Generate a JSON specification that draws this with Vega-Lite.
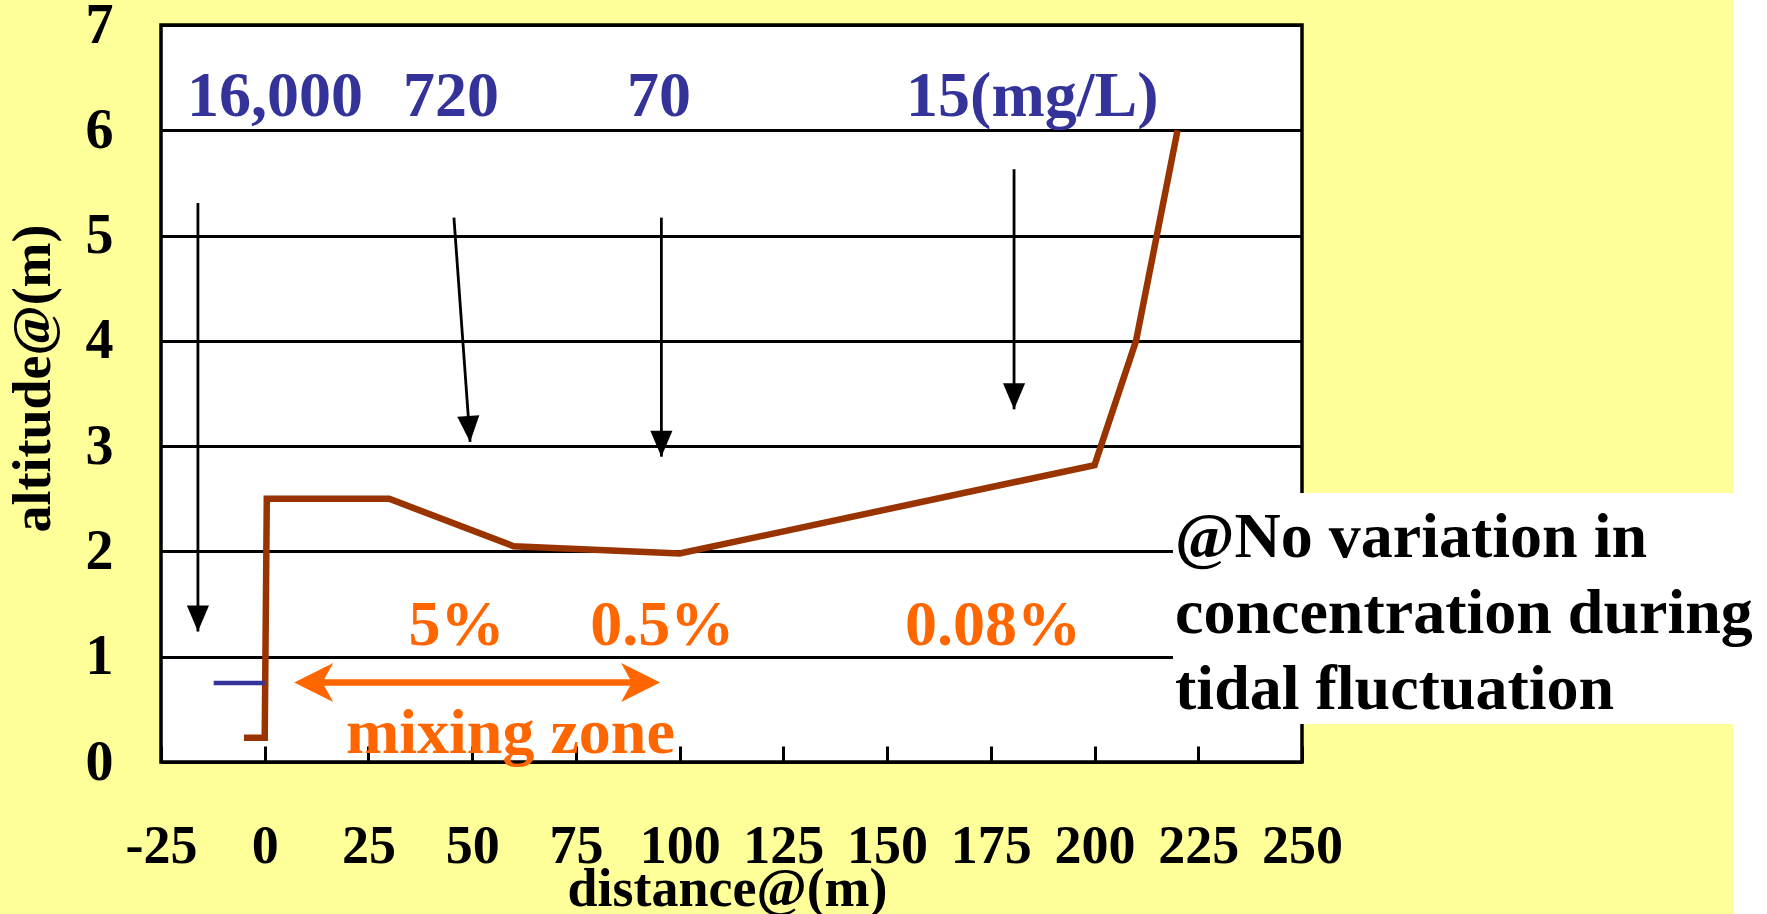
{
  "$schema": "https://vega.github.io/schema/vega-lite/v6.json",
  "width": 1141,
  "height": 737,
  "autosize": {"type": "none"},
  "padding": {"left": 161, "top": 25, "right": 465, "bottom": 152},
  "background": "#FFFF99",
  "config": {
    "view": {"fill": "white", "stroke": "black", "strokeWidth": 3.5},
    "font": "Liberation Serif"
  },
  "datasets": {
    "profile": [
      {"x": -5, "y": 0.23},
      {"x": 0, "y": 0.23},
      {"x": 0.5, "y": 2.5},
      {"x": 30, "y": 2.5},
      {"x": 60, "y": 2.05},
      {"x": 100, "y": 1.98},
      {"x": 200, "y": 2.82},
      {"x": 210, "y": 4.0},
      {"x": 220, "y": 6.0}
    ],
    "water": [
      {"x": -12.3, "y": 0.75},
      {"x": 0, "y": 0.75}
    ],
    "arrows": [
      {"x": -16.1, "y": 5.31, "x2": -16.1, "y2": 1.24, "angle": 0},
      {"x": 45.6, "y": 5.17, "x2": 49.5, "y2": 3.04, "angle": 356},
      {"x": 95.6, "y": 5.17, "x2": 95.6, "y2": 2.9, "angle": 0},
      {"x": 180.6, "y": 5.63, "x2": 180.6, "y2": 3.35, "angle": 0}
    ],
    "zone": [
      {"x": 7.1, "x2": 95.3, "s1": 13, "s2": 89, "y": 0.755}
    ],
    "box": [
      {"x": 218.9, "x2": 400, "y": 2.555, "y2": 0.361},
      {"x": 353.9, "x2": 400, "y": -2, "y2": 8}
    ],
    "labels": [
      {"x": 2.5, "y": 6.135, "text": "16,000", "group": "concentration"},
      {"x": 44.9, "y": 6.135, "text": "720", "group": "concentration"},
      {"x": 95, "y": 6.135, "text": "70", "group": "concentration"},
      {"x": 185, "y": 6.135, "text": "15(mg/L)", "group": "concentration"},
      {"x": 46.2, "y": 1.115, "text": "5%", "group": "fraction"},
      {"x": 95.8, "y": 1.115, "text": "0.5%", "group": "fraction"},
      {"x": 175.5, "y": 1.115, "text": "0.08%", "group": "fraction"},
      {"x": 59.2, "y": 0.086, "text": "mixing zone", "group": "fraction"}
    ],
    "note": [
      {"x": 219.4, "y": 1.95, "text": "@No variation in"},
      {"x": 219.4, "y": 1.228, "text": "concentration during"},
      {"x": 219.4, "y": 0.503, "text": "tidal fluctuation"}
    ]
  },
  "layer": [
    {
      "data": {"name": "profile"},
      "mark": {"type": "line", "color": "#993300", "strokeWidth": 6.5, "strokeJoin": "miter"},
      "encoding": {
        "x": {
          "field": "x", "type": "quantitative",
          "scale": {"domain": [-25, 250], "nice": false, "zero": false},
          "axis": {
            "values": [-25, 0, 25, 50, 75, 100, 125, 150, 175, 200, 225, 250],
            "labelExpr": "datum.value + ''",
            "title": "distance@(m)",
            "grid": false, "domain": false,
            "ticks": true, "tickSize": -16, "tickWidth": 3, "tickColor": "black",
            "labelPadding": 73, "labelFontSize": 54, "labelFont": "Liberation Serif",
            "labelFontWeight": "bold", "labelColor": "black",
            "labelFlush": false, "labelOverlap": false,
            "titleFont": "Liberation Serif", "titleFontSize": 54, "titleFontWeight": "bold",
            "titleColor": "black", "titleX": 566, "titleY": 143,
            "titleBaseline": "alphabetic", "titleAlign": "center"
          }
        },
        "y": {
          "field": "y", "type": "quantitative",
          "scale": {"domain": [0, 7], "nice": false, "zero": false},
          "axis": {
            "values": [0, 1, 2, 3, 4, 5, 6, 7],
            "labelExpr": "datum.value + ''",
            "title": "altitude@(m)",
            "grid": true, "gridColor": "black", "gridWidth": 3, "gridOpacity": 1,
            "domain": false, "ticks": false,
            "labelPadding": 48, "labelFontSize": 56, "labelFont": "Liberation Serif",
            "labelFontWeight": "bold", "labelColor": "black",
            "labelFlush": false, "labelOverlap": false,
            "titleFont": "Liberation Serif", "titleFontSize": 54, "titleFontWeight": "bold",
            "titleColor": "black", "titleX": -112, "titleY": 353,
            "titleBaseline": "alphabetic", "titleAlign": "center", "titleAngle": -90
          }
        }
      }
    },
    {
      "data": {"name": "box"},
      "mark": {"type": "rect", "color": "white", "strokeWidth": 0},
      "encoding": {
        "x": {"field": "x", "type": "quantitative"},
        "x2": {"field": "x2"},
        "y": {"field": "y", "type": "quantitative"},
        "y2": {"field": "y2"}
      }
    },
    {
      "data": {"name": "water"},
      "mark": {"type": "line", "color": "#333399", "strokeWidth": 4.5},
      "encoding": {
        "x": {"field": "x", "type": "quantitative"},
        "y": {"field": "y", "type": "quantitative"}
      }
    },
    {
      "data": {"name": "arrows"},
      "mark": {"type": "rule", "color": "black", "strokeWidth": 2.8},
      "encoding": {
        "x": {"field": "x", "type": "quantitative"},
        "y": {"field": "y", "type": "quantitative"},
        "x2": {"field": "x2"},
        "y2": {"field": "y2"}
      }
    },
    {
      "data": {"name": "arrows"},
      "mark": {"type": "point", "shape": "M0,0 L-0.85,-2 L0.85,-2 Z", "filled": true, "color": "black", "opacity": 1, "size": 676, "strokeWidth": 0},
      "encoding": {
        "x": {"field": "x2", "type": "quantitative"},
        "y": {"field": "y2", "type": "quantitative"},
        "angle": {"field": "angle", "type": "quantitative", "scale": null}
      }
    },
    {
      "data": {"name": "zone"},
      "mark": {"type": "rule", "color": "#FF6600", "strokeWidth": 6.5, "strokeCap": "butt"},
      "encoding": {
        "x": {"field": "s1", "type": "quantitative"},
        "x2": {"field": "s2"},
        "y": {"field": "y", "type": "quantitative"}
      }
    },
    {
      "data": {"name": "zone"},
      "mark": {"type": "point", "shape": "M0,0 L2,-1 L1.45,0 L2,1 Z", "filled": true, "color": "#FF6600", "opacity": 1, "size": 1521, "strokeWidth": 0},
      "encoding": {
        "x": {"field": "x", "type": "quantitative"},
        "y": {"field": "y", "type": "quantitative"}
      }
    },
    {
      "data": {"name": "zone"},
      "mark": {"type": "point", "shape": "M0,0 L-2,-1 L-1.45,0 L-2,1 Z", "filled": true, "color": "#FF6600", "opacity": 1, "size": 1521, "strokeWidth": 0},
      "encoding": {
        "x": {"field": "x2", "type": "quantitative"},
        "y": {"field": "y", "type": "quantitative"}
      }
    },
    {
      "data": {"name": "labels"},
      "mark": {"type": "text", "font": "Liberation Serif", "fontWeight": "bold", "fontSize": 64, "align": "center", "baseline": "alphabetic"},
      "encoding": {
        "x": {"field": "x", "type": "quantitative"},
        "y": {"field": "y", "type": "quantitative"},
        "text": {"field": "text", "type": "nominal"},
        "color": {"field": "group", "type": "nominal", "scale": {"domain": ["concentration", "fraction"], "range": ["#333399", "#FF6600"]}, "legend": null}
      }
    },
    {
      "data": {"name": "note"},
      "mark": {"type": "text", "font": "Liberation Serif", "fontWeight": "bold", "fontSize": 64, "align": "left", "baseline": "alphabetic", "color": "black"},
      "encoding": {
        "x": {"field": "x", "type": "quantitative"},
        "y": {"field": "y", "type": "quantitative"},
        "text": {"field": "text", "type": "nominal"}
      }
    }
  ]
}
